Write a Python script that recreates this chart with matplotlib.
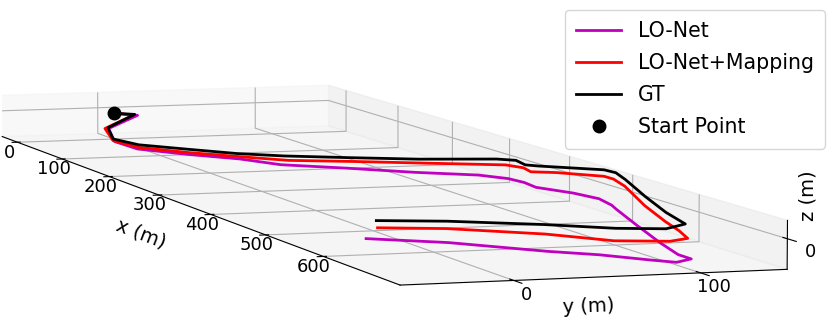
import numpy as np
import matplotlib
matplotlib.use('Agg')
import matplotlib.pyplot as plt

# trajectories (metres)
gt_x = [0, 11, 82, 145, 181, 212, 245, 265, 285, 305, 318, 328, 352, 360, 376, 390, 406, 440, 522, 596, 648, 665, 655, 628, 598, 584]
gt_y = [0, 10, -27, -42, -37, -18, 3, 24, 56, 91, 133, 141, 138, 143, 158, 171, 172, 165, 146, 130, 121, 104, 80, 51, 8, -26]
gt_z = [0] * 26

map_x = [0, 15, 86, 152, 191, 224, 255, 280, 295, 312, 333, 349, 370, 378, 401, 416, 450, 540, 611, 649, 683, 692, 680, 640, 600, 583]
map_y = [0, 8, -30, -44, -40, -21, 2, 22, 56, 92, 133, 138, 135, 147, 167, 167, 161, 139, 124, 117, 109, 96, 70, 47, 7, -25]
map_z = [0, 0, 0, -0.3, -0.5, -0.8, -1, -1.2, -1.5, -2, -2.3, -2.5, -2.5, -2.5, -3, -3, -3.2, -3.5, -3.8, -4, -4, -4, -4.2, -4.4, -4.6, -5]

lo_x = [0, 17, 83, 152, 192, 226, 255, 288, 310, 335, 353, 372, 390, 415, 445, 472, 500, 515, 581, 654, 701, 717, 725, 712, 680, 655, 600, 567]
lo_y = [0, 10, -27, -43, -41, -21, 1, 15, 47, 78, 110, 121, 124, 122, 133, 138, 135, 132, 119, 105, 97, 98, 87, 78, 62, 43, 8, -26]
lo_z = [0, 0, -0.5, -1, -1.5, -2, -2.5, -3, -4, -5, -6, -6.5, -7, -7, -7.5, -8, -8.5, -9, -10, -11, -11.5, -12, -12.5, -12.5, -13, -13.5, -14, -14.5]

fig = plt.figure(figsize=(8.31, 3.27), dpi=100)
ax = fig.add_axes([-0.340, -1.5008, 1.507, 3.829], projection='3d')

ax.plot(lo_x, lo_y, lo_z, color='m', lw=2, label='LO-Net')
ax.plot(map_x, map_y, map_z, color='r', lw=2, label='LO-Net+Mapping')
ax.plot(gt_x, gt_y, gt_z, color='k', lw=2, label='GT')
ax.plot([0], [0], [0], 'ko', ms=9, label='Start Point')

ax.set_xlim(-35, 725)
ax.set_ylim(-60, 147)
ax.set_zlim(-20, 12)
ax.set_box_aspect((760, 207, 25), zoom=1.1)
ax.view_init(elev=6.2, azim=-18.1)

ax.set_xticks(range(0, 700, 100))
ax.set_yticks([0, 100])
ax.set_zticks([0])
ax.tick_params(labelsize=13)

# axis titles placed where the reference has them
fig.text(141 / 831, 1 - 234 / 327, 'x (m)', fontsize=14, rotation=-21,
         ha='center', va='center', rotation_mode='anchor')
fig.text(589 / 831, 1 - 307 / 327, 'y (m)', fontsize=14, rotation=2,
         ha='center', va='center', rotation_mode='anchor')
fig.text(808 / 831, 1 - 196 / 327, 'z (m)', fontsize=14, rotation=90,
         ha='center', va='center', rotation_mode='anchor')

fig.legend(loc='upper right', bbox_to_anchor=(0.993, 0.969), fontsize=14.8,
           labelspacing=0.58, handlelength=2.2, borderpad=0.55, borderaxespad=0)

plt.savefig('out.png', dpi=100)
